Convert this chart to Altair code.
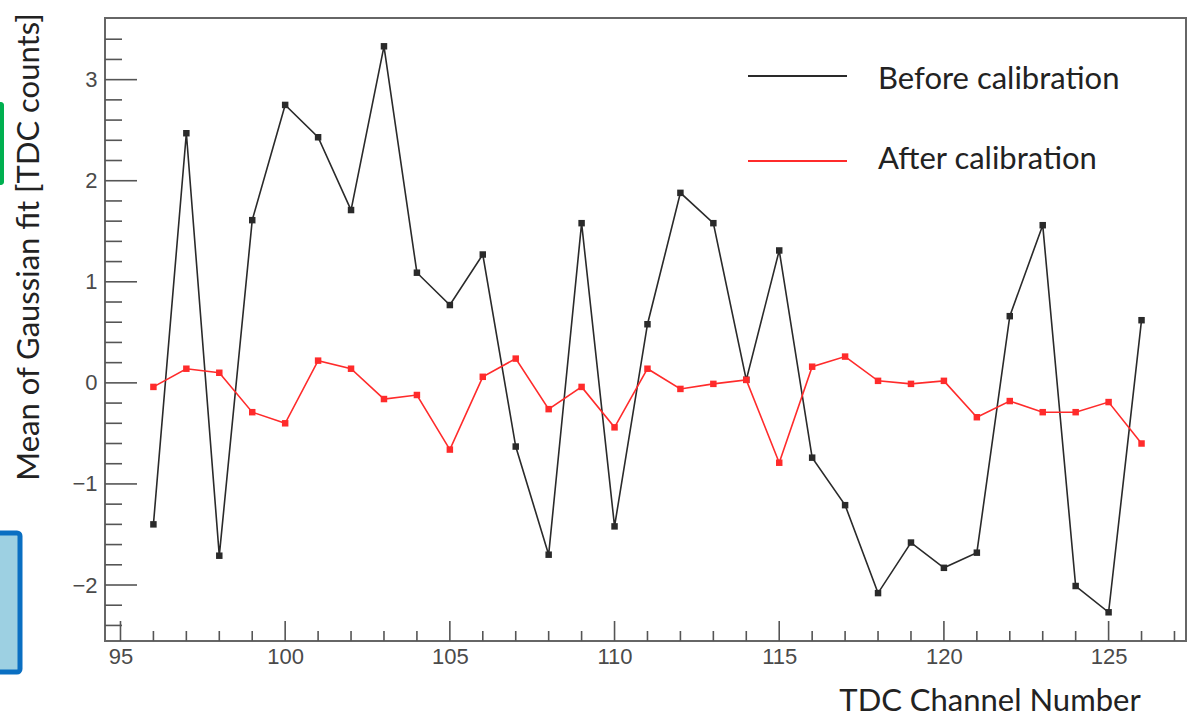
import altair as alt
import pandas as pd

# TDC channels and fitted Gaussian means (TDC counts)
channels = list(range(96, 127))
before_calib = [-1.40, 2.47, -1.71, 1.61, 2.75, 2.43, 1.71, 3.33, 1.09, 0.77,
                1.27, -0.63, -1.70, 1.58, -1.42, 0.58, 1.88, 1.58, 0.03, 1.31,
                -0.74, -1.21, -2.08, -1.58, -1.83, -1.68, 0.66, 1.56, -2.01, -2.27,
                0.62]
after_calib = [-0.04, 0.14, 0.10, -0.29, -0.40, 0.22, 0.14, -0.16, -0.12, -0.66,
               0.06, 0.24, -0.26, -0.04, -0.44, 0.14, -0.06, -0.01, 0.03, -0.79,
               0.16, 0.26, 0.02, -0.01, 0.02, -0.34, -0.18, -0.29, -0.29, -0.19,
               -0.60]

x_major = [95, 100, 105, 110, 115, 120, 125]
x_minor = list(range(95, 128))
y_major = [-2, -1, 0, 1, 2, 3]
y_minor = [round(-2.4 + 0.2 * i, 1) for i in range(30)]

legend_labels = ["Before calibration", "After calibration"]
BLACK = "#2a2a2a"
RED = "#ff2b2b"

W, H = 1081, 623
xs = alt.Scale(domain=[94.53, 127.35], nice=False, zero=False)
ys = alt.Scale(domain=[-2.554, 3.61], nice=False, zero=False)

df_before = pd.DataFrame({"channel": channels, "mean": before_calib})
df_after = pd.DataFrame({"channel": channels, "mean": after_calib})

x_axis = alt.Axis(values=x_major, ticks=False, domain=False, grid=False,
                  labelFont="Liberation Sans", labelFontSize=22, labelColor="#4a4a4a",
                  labelPadding=5, title=None, format="d")
y_axis = alt.Axis(values=y_major, ticks=False, domain=False, grid=False,
                  labelFont="Liberation Sans", labelFontSize=22, labelColor="#4a4a4a",
                  labelPadding=8, title=None, format="d")

X = alt.X("channel:Q", scale=xs, axis=x_axis)
Y = alt.Y("mean:Q", scale=ys, axis=y_axis)


def series(df, color):
    line = alt.Chart(df).mark_line(color=color, strokeWidth=1.6).encode(x=X, y=Y)
    pts = alt.Chart(df).mark_square(color=color, size=42, opacity=1).encode(x=X, y=Y)
    return line + pts


# inward-pointing tick marks on the frame
def yticks(vals, length):
    return alt.Chart(pd.DataFrame({"mean": vals})).mark_rule(
        color="#555", strokeWidth=1.6).encode(
        y=Y, x=alt.value(0), x2=alt.value(length))


def xticks(vals, length):
    return alt.Chart(pd.DataFrame({"channel": vals})).mark_rule(
        color="#555", strokeWidth=1.6).encode(
        x=X, y=alt.value(H), y2=alt.value(H - length))


def legend_entry(label, color, y_line, y_text):
    d = pd.DataFrame({"label": [label]})
    rule = alt.Chart(d).mark_rule(color=color, strokeWidth=2.2).encode(
        x=alt.value(643), x2=alt.value(742), y=alt.value(y_line))
    txt = alt.Chart(d).mark_text(align="left", baseline="middle", font="Lato",
                                 fontSize=31, color="#222").encode(
        text="label:N", x=alt.value(773), y=alt.value(y_text))
    return rule + txt


def label(text, x, y, size, angle=0):
    return alt.Chart(pd.DataFrame({"t": [text]})).mark_text(
        align="center", baseline="middle", font="Lato", fontSize=size,
        color="#222", angle=angle).encode(text="t:N", x=alt.value(x), y=alt.value(y))


# coloured side tabs at the left edge
tabs = pd.DataFrame({"k": ["green", "blue"]})
green_tab = alt.Chart(tabs).transform_filter("datum.k == 'green'").mark_rect(
    color="#00b050", cornerRadius=3).encode(
    x=alt.value(-110), x2=alt.value(-101), y=alt.value(84), y2=alt.value(167))
blue_tab = alt.Chart(tabs).transform_filter("datum.k == 'blue'").mark_rect(
    fill="#9dd0e2", stroke="#0a6fc2", strokeWidth=5, cornerRadius=3).encode(
    x=alt.value(-112), x2=alt.value(-85), y=alt.value(515), y2=alt.value(654))

chart = alt.layer(
    series(df_before, BLACK),
    series(df_after, RED),
    yticks([v for v in y_minor if v not in y_major], 17),
    yticks(y_major, 32),
    xticks([v for v in x_minor if v not in x_major], 10),
    xticks(x_major, 20),
    legend_entry(legend_labels[0], BLACK, 58, 62),
    legend_entry(legend_labels[1], RED, 143, 142),
    label("TDC Channel Number", 885, 684, 31),
    label("Mean of Gaussian fit [TDC counts]", -75, 229, 31, angle=270),
    green_tab,
    blue_tab,
).properties(
    width=W, height=H,
    padding={"left": 105, "top": 18, "right": 2, "bottom": 78},
    autosize=alt.AutoSizeParams(type="none"),
    background="white",
).configure_view(
    stroke="#666", strokeWidth=2
)

chart.save("out.html", embed_options={"renderer": "svg", "actions": False})
